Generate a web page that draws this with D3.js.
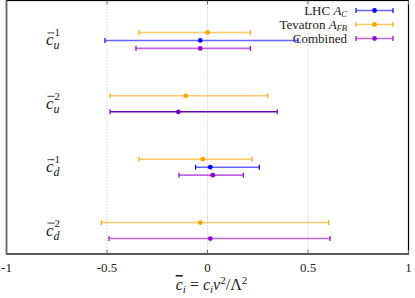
<!DOCTYPE html>
<html>
<head>
<meta charset="utf-8">
<script src="https://cdn.jsdelivr.net/npm/d3@7"></script>
<style>
  body { margin: 0; background: #fff; }
  svg { display: block; font-family: "Liberation Serif", "DejaVu Serif", serif; }
</style>
</head>
<body>
<div id="chart"></div>
<script>
// coefficient rows, top to bottom
const params = [
    { base: "c", sub: "u", sup: "1" },
    { base: "c", sub: "u", sup: "2" },
    { base: "c", sub: "d", sup: "1" },
    { base: "c", sub: "d", sup: "2" }
];

// central value and interval per row (null = no result)
const lhcAC = [
    { c: -0.036, lo: -0.51, hi: 0.45 },
    null,
    { c: 0.014, lo: -0.059, hi: 0.258 },
    null
];
const tevatronAFB = [
    { c: 0.001, lo: -0.34, hi: 0.213 },
    { c: -0.108, lo: -0.485, hi: 0.30 },
    { c: -0.024, lo: -0.34, hi: 0.222 },
    { c: -0.036, lo: -0.528, hi: 0.603 }
];
const combined = [
    { c: -0.036, lo: -0.356, hi: 0.213 },
    { c: -0.145, lo: -0.485, hi: 0.347 },
    { c: 0.026, lo: -0.142, hi: 0.178 },
    { c: 0.014, lo: -0.49, hi: 0.61 }
];

const xTicks = [-1, -0.5, 0, 0.5, 1];
const gridTicks = [-0.5, 0, 0.5];

const series = [
    { name: "Tevatron", data: tevatronAFB, color: "#ffa500", offset: -0.126 },
    { name: "LHC", data: lhcAC, color: "#0000ff", offset: 0 },
    { name: "Combined", data: combined, color: "#9400d3", offset: 0.126 }
];

const width = 415, height = 298;
const margin = { top: 0.5, right: 6.5, bottom: 44, left: 6.5 };

const svg = d3.select("#chart").append("svg")
    .attr("width", width)
    .attr("height", height);

const x = d3.scaleLinear()
    .domain([-1, 1])
    .range([margin.left, width - margin.right]);

// rows sit at 0.63, 1.63, ... from the top
const y = d3.scaleLinear()
    .domain([0, 4])
    .range([margin.top, height - margin.bottom]);

const rowY = i => y(i + 0.63);

// grid
svg.append("g")
    .selectAll("line")
    .data(gridTicks)
    .enter()
    .append("line")
    .attr("x1", d => x(d)).attr("x2", d => x(d))
    .attr("y1", y(0)).attr("y2", y(4))
    .style("stroke", "#aaa")
    .style("stroke-width", 0.8)
    .style("stroke-dasharray", "1,2");

// error bars
series.forEach(s => {
    const rows = s.data.map((d, i) => d ? { ...d, i } : null).filter(d => d);
    const g = svg.append("g");
    rows.forEach(d => {
        const yy = rowY(d.i) + (y(s.offset) - y(0));
        // the combined c_u^2 bar is drawn darker in the original
        const dark = s.name === "Combined" && d.i === 1;
        const col = dark ? "#6e00b4" : s.color;
        const op = dark ? 1 : 0.6;
        g.append("line")
            .attr("x1", x(d.lo)).attr("x2", x(d.hi))
            .attr("y1", yy).attr("y2", yy)
            .style("stroke", col)
            .style("stroke-opacity", op)
            .style("stroke-width", 1.6);
        [d.lo, d.hi].forEach(v => {
            g.append("line")
                .attr("x1", x(v)).attr("x2", x(v))
                .attr("y1", yy - 2.5).attr("y2", yy + 2.5)
                .style("stroke", col)
                .style("stroke-width", 1.2);
        });
        g.append("circle")
            .attr("cx", x(d.c)).attr("cy", yy)
            .attr("r", 2.4)
            .style("fill", col);
    });
});

// frame
svg.append("rect")
    .attr("x", x(-1)).attr("y", y(0))
    .attr("width", x(1) - x(-1)).attr("height", y(4) - y(0))
    .style("fill", "none")
    .style("stroke", "#000")
    .style("stroke-width", 1.2);
svg.append("line")
    .attr("x1", x(-1)).attr("x2", x(-1)).attr("y1", y(0)).attr("y2", y(4))
    .style("stroke", "#666").style("stroke-width", 1.6);
svg.append("line")
    .attr("x1", x(-1)).attr("x2", x(1)).attr("y1", y(4)).attr("y2", y(4))
    .style("stroke", "#555").style("stroke-width", 1.4);

// ticks (inward, top and bottom)
const tickG = svg.append("g");
xTicks.forEach(t => {
    tickG.append("line")
        .attr("x1", x(t)).attr("x2", x(t))
        .attr("y1", y(4)).attr("y2", y(4) - 4)
        .style("stroke", "#666");
    tickG.append("line")
        .attr("x1", x(t)).attr("x2", x(t))
        .attr("y1", y(0)).attr("y2", y(0) + 4)
        .style("stroke", "#666");
    tickG.append("text")
        .attr("x", x(t))
        .attr("y", y(4) + 18)
        .attr("text-anchor", "middle")
        .style("font-size", "13px")
        .style("fill", "#222")
        .text(t);
});

// row labels
params.forEach((p, i) => {
    const yy = rowY(i);
    const lg = svg.append("g").attr("transform", `translate(46,${yy + 5})`);
    lg.append("text")
        .attr("x", 0).attr("y", 0)
        .style("font-size", "17px")
        .style("font-style", "italic")
        .style("fill", "#222")
        .text(p.base);
    lg.append("line")
        .attr("x1", 1.5).attr("x2", 8.5)
        .attr("y1", -12.5).attr("y2", -12.5)
        .style("stroke", "#222").style("stroke-width", 0.9);
    lg.append("text")
        .attr("x", 8.5).attr("y", -9)
        .style("font-size", "11px")
        .style("fill", "#222")
        .text(p.sup);
    lg.append("text")
        .attr("x", 7.5).attr("y", 4)
        .style("font-size", "12px")
        .style("font-style", "italic")
        .style("fill", "#222")
        .text(p.sub);
});

// legend
const legend = [
    { label: "LHC ", math: "A", sub: "C", color: "#0000ff" },
    { label: "Tevatron ", math: "A", sub: "FB", color: "#ffa500" },
    { label: "Combined", math: "", sub: "", color: "#9400d3" }
];
legend.forEach((l, i) => {
    const ly = 10.5 + i * 14;
    const t = svg.append("text")
        .attr("x", 347).attr("y", ly + 4.5)
        .attr("text-anchor", "end")
        .style("font-size", "13px")
        .style("fill", "#222");
    t.append("tspan").text(l.label);
    if (l.math) {
        t.append("tspan").style("font-style", "italic").text(l.math);
        t.append("tspan").attr("dy", 1.5).style("font-size", "8.5px")
            .style("font-style", "italic").text(l.sub);
    }
    svg.append("line")
        .attr("x1", 356).attr("x2", 393)
        .attr("y1", ly).attr("y2", ly)
        .style("stroke", l.color).style("stroke-opacity", 0.6).style("stroke-width", 1.6);
    [356, 393].forEach(v => {
        svg.append("line")
            .attr("x1", v).attr("x2", v)
            .attr("y1", ly - 2.5).attr("y2", ly + 2.5)
            .style("stroke", l.color).style("stroke-width", 1.2);
    });
    svg.append("circle")
        .attr("cx", 374.5).attr("cy", ly).attr("r", 2.4)
        .style("fill", l.color);
});

// x axis title
const xt = svg.append("text")
    .attr("x", x(0) + 4)
    .attr("y", 290)
    .attr("text-anchor", "middle")
    .style("font-size", "16px")
    .style("fill", "#222");
xt.append("tspan").style("font-style", "italic").style("text-decoration", "overline").text("c");
xt.append("tspan").attr("dy", 3).style("font-size", "11px").style("font-style", "italic").text("i");
xt.append("tspan").attr("dy", -3).text(" = ");
xt.append("tspan").style("font-style", "italic").text("c");
xt.append("tspan").attr("dy", 3).style("font-size", "11px").style("font-style", "italic").text("i");
xt.append("tspan").attr("dy", -3).style("font-style", "italic").text("v");
xt.append("tspan").attr("dy", -6).style("font-size", "11px").text("2");
xt.append("tspan").attr("dy", 6).text("/Λ");
xt.append("tspan").attr("dy", -6).style("font-size", "11px").text("2");
</script>
</body>
</html>
